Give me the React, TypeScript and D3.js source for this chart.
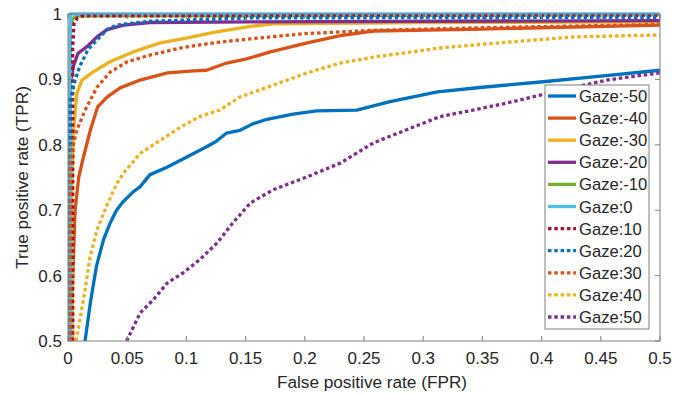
import React from "react";
import * as d3 from "d3";

// ROC curves, one [fpr, tpr] list per gaze angle
const gazeM50: [number, number][] = [
  [0.0144, 0.5], [0.019, 0.56], [0.024, 0.614], [0.03, 0.655], [0.0355, 0.68], [0.041, 0.7],
  [0.0465, 0.713], [0.055, 0.728], [0.061, 0.736], [0.069, 0.754], [0.084, 0.766], [0.1, 0.781],
  [0.117, 0.797], [0.125, 0.805], [0.134, 0.818], [0.145, 0.822], [0.156, 0.832], [0.168, 0.839],
  [0.19, 0.847], [0.21, 0.852], [0.244, 0.853], [0.272, 0.866], [0.312, 0.881], [0.35, 0.888],
  [0.399, 0.896], [0.45, 0.905], [0.5, 0.914],
];
const gazeM40: [number, number][] = [
  [0.0025, 0.5], [0.004, 0.6], [0.006, 0.7], [0.009, 0.75], [0.013, 0.781], [0.019, 0.823],
  [0.025, 0.858], [0.033, 0.873], [0.044, 0.887], [0.061, 0.899], [0.084, 0.91], [0.106, 0.913],
  [0.117, 0.914], [0.134, 0.925], [0.15, 0.931], [0.171, 0.942], [0.202, 0.956], [0.23, 0.967],
  [0.258, 0.974], [0.35, 0.977], [0.5, 0.983],
];
const gazeM30: [number, number][] = [
  [0.004, 0.5], [0.003, 0.716], [0.0045, 0.818], [0.0075, 0.879], [0.0118, 0.899], [0.021, 0.911],
  [0.0355, 0.927], [0.055, 0.942], [0.078, 0.956], [0.1, 0.963], [0.123, 0.972], [0.154, 0.981],
  [0.173, 0.985], [0.3, 0.987], [0.5, 0.988],
];
const gazeM20: [number, number][] = [
  [0.0015, 0.5], [0.0017, 0.85], [0.002, 0.895], [0.0045, 0.92], [0.0085, 0.94], [0.016, 0.95],
  [0.0245, 0.965], [0.033, 0.976], [0.047, 0.983], [0.069, 0.987], [0.154, 0.988], [0.5, 0.99],
];
const gazeM10: [number, number][] = [
  [0.0015, 0.5], [0.0017, 0.98], [0.004, 0.993], [0.007, 0.997], [0.5, 0.999],
];
const gaze0: [number, number][] = [
  [0.002, 0.5], [0.002, 1], [0.5, 1],
];
const gaze10: [number, number][] = [
  [0.004, 0.5], [0.004, 0.95], [0.005, 0.985], [0.008, 0.994], [0.0127, 0.997], [0.5, 0.998],
];
const gaze20: [number, number][] = [
  [0.0015, 0.5], [0.0017, 0.84], [0.002, 0.869], [0.006, 0.899], [0.01, 0.92], [0.017, 0.946],
  [0.027, 0.965], [0.033, 0.976], [0.041, 0.983], [0.069, 0.989], [0.154, 0.994], [0.5, 0.995],
];
const gaze30: [number, number][] = [
  [0.0018, 0.5], [0.002, 0.766], [0.0034, 0.792], [0.0076, 0.823], [0.0144, 0.853],
  [0.0245, 0.888], [0.0355, 0.911], [0.05, 0.927], [0.069, 0.937], [0.095, 0.948], [0.123, 0.956],
  [0.154, 0.962], [0.2, 0.97], [0.258, 0.975], [0.35, 0.979], [0.5, 0.984],
];
const gaze40: [number, number][] = [
  [0.0068, 0.5], [0.01, 0.532], [0.0144, 0.578], [0.0186, 0.628], [0.0245, 0.67], [0.033, 0.708],
  [0.041, 0.74], [0.047, 0.757], [0.061, 0.787], [0.078, 0.807], [0.095, 0.827], [0.111, 0.843],
  [0.128, 0.853], [0.145, 0.873], [0.173, 0.891], [0.202, 0.91], [0.23, 0.925], [0.258, 0.934],
  [0.314, 0.948], [0.371, 0.957], [0.427, 0.965], [0.5, 0.968],
];
const gaze50: [number, number][] = [
  [0.0495, 0.5], [0.061, 0.543], [0.072, 0.563], [0.084, 0.589], [0.097, 0.604], [0.111, 0.624],
  [0.126, 0.65], [0.139, 0.68], [0.154, 0.711], [0.173, 0.731], [0.202, 0.751], [0.23, 0.772],
  [0.258, 0.803], [0.286, 0.823], [0.314, 0.843], [0.342, 0.853], [0.371, 0.864], [0.399, 0.876],
  [0.455, 0.899], [0.5, 0.91],
];

const seriesNames = [
  "Gaze:-50", "Gaze:-40", "Gaze:-30", "Gaze:-20", "Gaze:-10", "Gaze:0",
  "Gaze:10", "Gaze:20", "Gaze:30", "Gaze:40", "Gaze:50",
];
const seriesData = [
  gazeM50, gazeM40, gazeM30, gazeM20, gazeM10, gaze0,
  gaze10, gaze20, gaze30, gaze40, gaze50,
];
const seriesColors = [
  "#0072BD", "#D95319", "#EDB120", "#7E2F8E", "#77AC30", "#4DBEEE",
  "#A2142F", "#0072BD", "#D95319", "#EDB120", "#7E2F8E",
];
const seriesDotted = [false, false, false, false, false, false, true, true, true, true, true];

const xTicks = [0, 0.05, 0.1, 0.15, 0.2, 0.25, 0.3, 0.35, 0.4, 0.45, 0.5];
const yTicks = [0.5, 0.6, 0.7, 0.8, 0.9, 1];

const W = 674;
const H = 394;
const m = { left: 68, right: 14, top: 14, bottom: 53 };

export default function App() {
  const x = d3.scaleLinear().domain([0, 0.5]).range([m.left, W - m.right]);
  const y = d3.scaleLinear().domain([0.5, 1]).range([H - m.bottom, m.top]);
  const line = d3
    .line<[number, number]>()
    .x((d) => x(d[0]))
    .y((d) => y(d[1]));

  const axisColor = "#808080";
  const textColor = "#262626";
  const font = "'Liberation Sans', Arial, sans-serif";
  const tick = 5;
  const lw = 3.3;

  const legX = 545;
  const legY = 85;
  const legW = 104;
  const rowH = 22.1;
  const legH = 244;

  return (
    <svg
      width={W}
      height={H}
      style={{ position: "absolute", left: 0, top: 0, background: "#fff" }}
      fontFamily={font}
    >
      <rect width={W} height={H} fill="#fff" />
      {/* curves */}
      {seriesData.map((d, i) => (
        <path
          key={seriesNames[i]}
          d={line(d) || ""}
          fill="none"
          stroke={seriesColors[i]}
          strokeWidth={lw}
          strokeDasharray={seriesDotted[i] ? "3.5 2.8" : undefined}
          strokeLinejoin="round"
        />
      ))}
      {/* axes box */}
      <rect
        x={x(0)}
        y={y(1)}
        width={x(0.5) - x(0)}
        height={y(0.5) - y(1)}
        fill="none"
        stroke={axisColor}
        strokeWidth={1}
      />
      {xTicks.map((t) => (
        <g key={"x" + t}>
          <line x1={x(t)} x2={x(t)} y1={y(0.5)} y2={y(0.5) - tick} stroke={axisColor} />
          <line x1={x(t)} x2={x(t)} y1={y(1)} y2={y(1) + tick} stroke={axisColor} />
          <text
            x={x(t)}
            y={y(0.5) + 23}
            textAnchor="middle"
            fontSize={17}
            fill={textColor}
          >
            {d3.format("~g")(t)}
          </text>
        </g>
      ))}
      {yTicks.map((t) => (
        <g key={"y" + t}>
          <line x1={x(0)} x2={x(0) + tick} y1={y(t)} y2={y(t)} stroke={axisColor} />
          <line x1={x(0.5)} x2={x(0.5) - tick} y1={y(t)} y2={y(t)} stroke={axisColor} />
          <text
            x={x(0) - 6}
            y={y(t) + 6}
            textAnchor="end"
            fontSize={17}
            fill={textColor}
          >
            {d3.format("~g")(t)}
          </text>
        </g>
      ))}
      <text
        x={(x(0) + x(0.5)) / 2 + 8}
        y={388}
        textAnchor="middle"
        fontSize={17.2}
        fill={textColor}
      >
        False positive rate (FPR)
      </text>
      <text
        transform={`translate(28,${(y(0.5) + y(1)) / 2}) rotate(-90)`}
        textAnchor="middle"
        fontSize={17.2}
        fill={textColor}
      >
        True positive rate (TPR)
      </text>
      {/* legend */}
      <rect x={legX} y={legY} width={legW} height={legH} fill="#fff" stroke={axisColor} />
      {seriesNames.map((name, i) => {
        const cy = legY + 11 + i * rowH;
        return (
          <g key={"leg" + name}>
            <line
              x1={legX + 3}
              x2={legX + 31}
              y1={cy}
              y2={cy}
              stroke={seriesColors[i]}
              strokeWidth={lw}
              strokeDasharray={seriesDotted[i] ? "3.5 2.8" : undefined}
            />
            <text x={legX + 34} y={cy + 6} fontSize={16.6} fill={textColor}>
              {name}
            </text>
          </g>
        );
      })}
    </svg>
  );
}
